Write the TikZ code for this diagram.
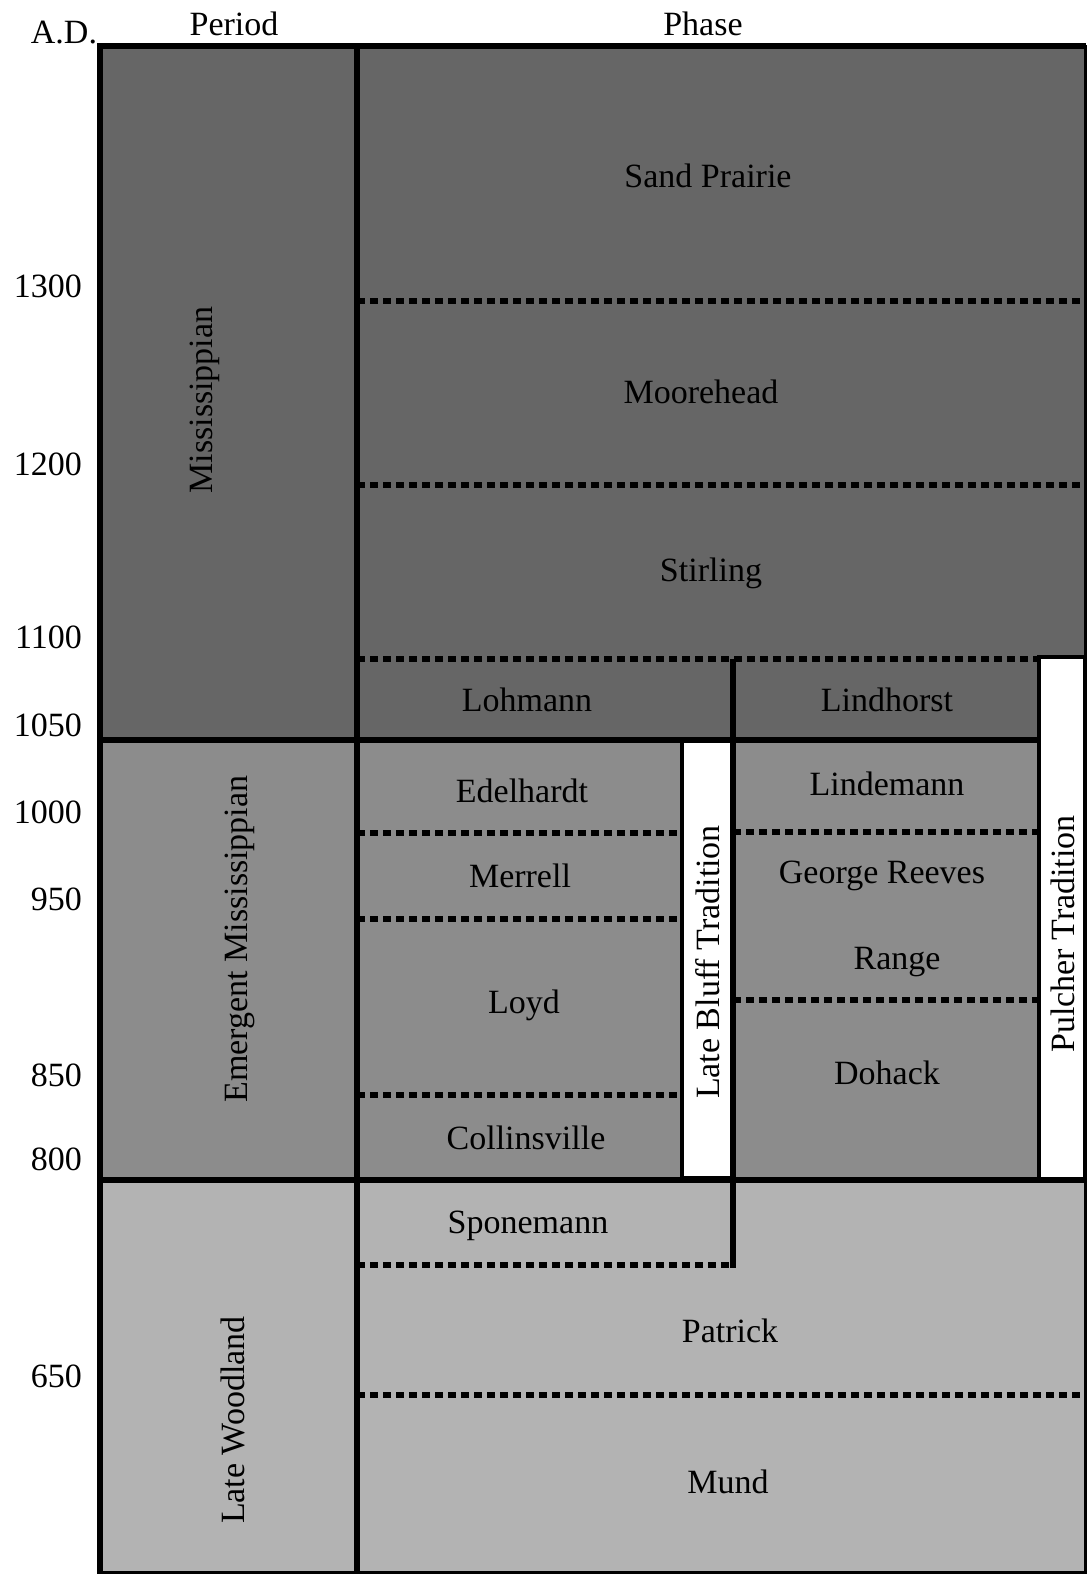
\documentclass[tikz,border=0pt]{standalone}
\usepackage{fontspec}
\setmainfont{Liberation Serif}
\usetikzlibrary{positioning}
\definecolor{missgray}{HTML}{666666}
\definecolor{emerggray}{HTML}{8C8C8C}
\definecolor{woodgray}{HTML}{B3B3B3}
\tikzset{
  solidline/.style={line width=5.5pt},
  dotline/.style={line width=6pt, dash pattern=on 8pt off 5pt},
  lbl/.style={font=\fontsize{34}{40}\selectfont, inner sep=0pt},
  vlbl/.style={lbl, rotate=90},
  tradbox/.style={fill=white, draw=black, line width=4.5pt}
}

\begin{document}
\begin{tikzpicture}[x=1pt,y=-1pt]
\useasboundingbox (0,0) rectangle (1088,1575);

% 三个时期的底色
\fill[missgray] (100,46) rectangle (1086,740);
\fill[emerggray] (100,740) rectangle (1086,1180);
\fill[woodgray] (100,1180) rectangle (1086,1572);

% 传统 (白色竖条)
\filldraw[tradbox] (682,740) rectangle (733,1178);
\filldraw[tradbox] (1039,657) rectangle (1085,1179);

% 虚线 - 阶段分界
\foreach \y in {301,485} 
    \draw[dotline] (357,\y) -- (1086,\y);
\draw[dotline] (357,659) -- (1039,659);
\foreach \y in {833,919,1095} 
    \draw[dotline] (357,\y) -- (682,\y);
\foreach \y in {832,1000} 
    \draw[dotline] (733,\y) -- (1039,\y);
\draw[dotline] (357,1265) -- (733,1265);
\draw[dotline] (357,1395) -- (1086,1395);

% 实线 - 外框和时期分界
\draw[line width=3pt] (100,46) rectangle (1085,1572);
\draw[solidline] (97,46) -- (1086,46);
\draw[solidline] (100,44) -- (100,1574);
\draw[solidline] (357,46) -- (357,1572);
\draw[solidline] (100,740) -- (1039,740);
\draw[solidline] (100,1180) -- (1086,1180);
\draw[solidline] (733,659) -- (733,1268);

% 表头
\node[lbl, anchor=base] (ad) at (64,43) {A.D.};
\node[lbl, anchor=base] (period) at (234,35) {Period};
\node[lbl, anchor=base] (phase) at (703,35) {Phase};

% 年份
\foreach \y/\t in {286/1300, 464/1200, 637/1100, 725/1050, 812/1000, 899/950, 1075/850, 1159/800, 1376/650} 
    \node[lbl, anchor=east] (yr\t) at (82,\y) {\t};

% 时期 (竖排)
\node[vlbl] (miss) at (205,400) {Mississippian};
\node[vlbl] (emerg) at (240,939) {Emergent Mississippian};
\node[vlbl] (wood) at (233,1420) {Late Woodland};

% 阶段
\node[lbl] (sandprairie) at (708,176) {Sand Prairie};
\node[lbl] (moorehead) at (701,392) {Moorehead};
\node[lbl] (stirling) at (711,573) {Stirling};
\node[lbl] (lohmann) at (527,700) {Lohmann};
\node[lbl] (lindhorst) at (887,700) {Lindhorst};
\node[lbl] (edelhardt) at (522,791) {Edelhardt};
\node[lbl] (lindemann) at (887,784) {Lindemann};
\node[lbl] (merrell) at (520,876) {Merrell};
\node[lbl] (reeves) at (882,876) {George Reeves};
\node[lbl] (range) at (897,962) {Range};
\node[lbl] (loyd) at (524,1005) {Loyd};
\node[lbl] (dohack) at (887,1073) {Dohack};
\node[lbl] (collins) at (526,1138) {Collinsville};
\node[lbl] (sponemann) at (528,1226) {Sponemann};
\node[lbl] (patrick) at (730,1331) {Patrick};
\node[lbl] (mund) at (728,1482) {Mund};

% 传统名称
\node[vlbl] (latebluff) at (708,962) {Late Bluff Tradition};
\node[vlbl] (pulcher) at (1063,934) {Pulcher Tradition};

\end{tikzpicture}
\end{document}
